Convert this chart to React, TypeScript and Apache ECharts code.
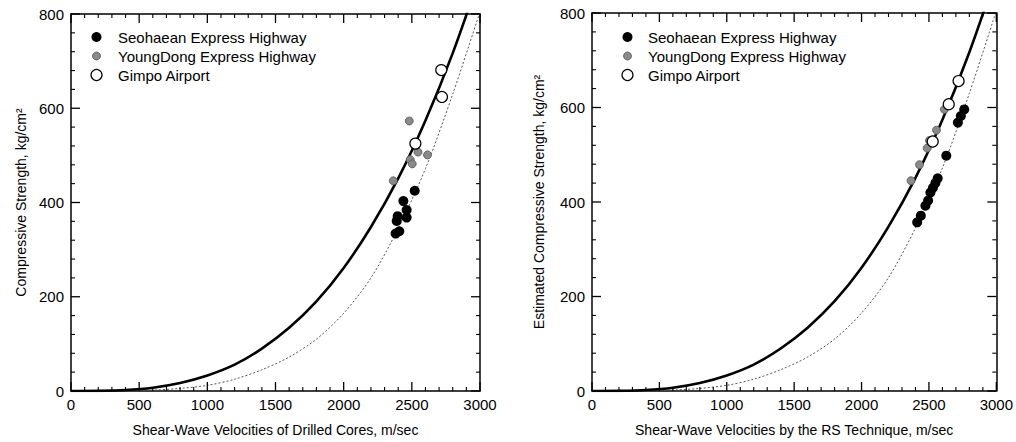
import React, { useEffect, useRef } from "react";
import * as echarts from "echarts";

// Fitted curves (velocity m/sec -> strength kg/cm2)
const velocityGrid = [0, 200, 400, 600, 800, 1000, 1200, 1400, 1600, 1800, 2000, 2200, 2400, 2600, 2800, 3000];
const solidCurve = [0, 0.3, 2, 7, 17, 33, 56, 90, 134, 190, 261, 348, 451, 574, 717, 882];
const dottedCurve = [0, 0, 0.5, 2, 5.5, 12, 25, 45, 72, 110, 165, 240, 345, 472, 630, 805];

// Left panel: drilled cores
const seohaeanLeft = [[2381, 334], [2408, 339], [2389, 361], [2396, 371], [2462, 368], [2462, 384], [2438, 403], [2521, 425]];
const youngdongLeft = [[2364, 446], [2481, 573], [2488, 491], [2503, 482], [2545, 507], [2615, 501]];
const gimpoLeft = [[2526, 525], [2716, 681], [2721, 624]];

// Right panel: RS technique
const seohaeanRight = [[2413, 357], [2440, 371], [2474, 392], [2494, 403], [2511, 420], [2530, 430], [2548, 440], [2565, 450], [2629, 498], [2715, 568], [2737, 582], [2762, 596]];
const youngdongRight = [[2367, 445], [2430, 479], [2487, 514], [2504, 530], [2556, 552], [2615, 596]];
const gimpoRight = [[2528, 528], [2647, 607], [2720, 656]];

// Tick positions (major + minor) of the framed axes
const xTickValues = [0, 100, 200, 300, 400, 500, 600, 700, 800, 900, 1000, 1100, 1200, 1300, 1400, 1500, 1600, 1700, 1800, 1900, 2000, 2100, 2200, 2300, 2400, 2500, 2600, 2700, 2800, 2900, 3000];
const yTickValues = [0, 40, 80, 120, 160, 200, 240, 280, 320, 360, 400, 440, 480, 520, 560, 600, 640, 680, 720, 760, 800];

const seriesNames = ["Seohaean Express Highway", "YoungDong Express Highway", "Gimpo Airport"];
const xTitles = ["Shear-Wave Velocities of Drilled Cores, m/sec", "Shear-Wave Velocities by the RS Technique, m/sec"];
const yTitles = ["Compressive Strength, kg/cm\u00B2", "Estimated Compressive Strength, kg/cm\u00B2"];

const FONT = "'Liberation Sans', Arial, sans-serif";

const markerStyles = [
  { r: 5, fill: "#000", stroke: "#000", lineWidth: 0 },
  { r: 4, fill: "#8a8a8a", stroke: "#555", lineWidth: 0.8 },
  { r: 5.5, fill: "#fff", stroke: "#000", lineWidth: 1.2 },
];

function axisCfg(grid: number, pos: string, isX: boolean, name: string | null, gap: number, showLabel: boolean): any {
  const cfg: any = {
    type: "value",
    gridIndex: grid,
    position: pos,
    min: 0,
    max: isX ? 3000 : 800,
    interval: isX ? 500 : 200,
    axisLine: { show: true, onZero: false, lineStyle: { color: "#000", width: 1.5 } },
    axisTick: { show: false },
    minorTick: { show: false },
    splitLine: { show: false },
    minorSplitLine: { show: false },
    axisLabel: {
      show: showLabel,
      color: "#000",
      fontSize: 15,
      fontFamily: FONT,
      margin: isX ? 6 : 7,
      formatter: (v: number) => String(v),
    },
  };
  if (name) {
    cfg.name = name;
    cfg.nameLocation = "middle";
    cfg.nameGap = gap;
    cfg.nameTextStyle = { color: "#000", fontSize: 14, fontFamily: FONT };
  }
  return cfg;
}

function tickSeries(xi: number, yi: number) {
  const tickStyle = (major: boolean) => ({ stroke: "#000", lineWidth: major ? 1.3 : 1.1 });
  return [
    {
      type: "custom",
      xAxisIndex: xi,
      yAxisIndex: yi,
      silent: true,
      clip: false,
      z: 10,
      data: xTickValues.map((v) => [v, 0]),
      renderItem: (_p: any, api: any) => {
        const v = api.value(0);
        const major = v % 500 === 0;
        const len = major ? 9 : 4;
        const b = api.coord([v, 0]);
        const t = api.coord([v, 800]);
        return {
          type: "group",
          children: [
            { type: "line", shape: { x1: b[0], y1: b[1], x2: b[0], y2: b[1] - len }, style: tickStyle(major) },
            { type: "line", shape: { x1: t[0], y1: t[1], x2: t[0], y2: t[1] + len }, style: tickStyle(major) },
          ],
        };
      },
    },
    {
      type: "custom",
      xAxisIndex: xi,
      yAxisIndex: yi,
      silent: true,
      clip: false,
      z: 10,
      data: yTickValues.map((v) => [0, v]),
      renderItem: (_p: any, api: any) => {
        const v = api.value(1);
        const major = v % 200 === 0;
        const len = major ? 9 : 4;
        const l = api.coord([0, v]);
        const r = api.coord([3000, v]);
        return {
          type: "group",
          children: [
            { type: "line", shape: { x1: l[0], y1: l[1], x2: l[0] + len, y2: l[1] }, style: tickStyle(major) },
            { type: "line", shape: { x1: r[0], y1: r[1], x2: r[0] - len, y2: r[1] }, style: tickStyle(major) },
          ],
        };
      },
    },
  ];
}

function panelSeries(xi: number, yi: number, s: number[][], y: number[][], g: number[][]) {
  const curve = (vals: number[]) => velocityGrid.map((v, i) => [v, vals[i]]);
  const pts = [s, y, g];
  return [
    {
      type: "line",
      xAxisIndex: xi,
      yAxisIndex: yi,
      data: curve(dottedCurve),
      smooth: 0.3,
      symbol: "none",
      lineStyle: { color: "#555", width: 1, type: [2, 2] },
      z: 2,
    },
    {
      type: "line",
      xAxisIndex: xi,
      yAxisIndex: yi,
      data: curve(solidCurve),
      smooth: 0.3,
      symbol: "none",
      lineStyle: { color: "#000", width: 2.6 },
      z: 3,
    },
    ...pts.map((data, k) => ({
      name: seriesNames[k],
      type: "scatter",
      xAxisIndex: xi,
      yAxisIndex: yi,
      data,
      symbol: "circle",
      symbolSize: markerStyles[k].r * 2,
      itemStyle: {
        color: markerStyles[k].fill,
        borderColor: markerStyles[k].stroke,
        borderWidth: markerStyles[k].lineWidth,
        opacity: 1,
      },
      z: 5 + k,
    })),
    ...tickSeries(xi, yi),
  ];
}

function legendGraphics(symX: number, textX: number, top: number, pitch: number) {
  const els: any[] = [];
  seriesNames.forEach((name, k) => {
    const cy = top + k * pitch;
    const m = markerStyles[k];
    els.push({
      type: "circle",
      shape: { cx: symX, cy, r: m.r },
      style: { fill: m.fill, stroke: m.stroke, lineWidth: m.lineWidth },
      silent: true,
    });
    els.push({
      type: "text",
      x: textX,
      y: cy,
      style: { text: name, fill: "#000", fontSize: 15, fontFamily: FONT, verticalAlign: "middle", align: "left" },
      silent: true,
    });
  });
  return els;
}

export default function App() {
  const ref = useRef<HTMLDivElement>(null);
  useEffect(() => {
    if (!ref.current) return;
    const chart = echarts.init(ref.current, null, { renderer: "svg" });
    const option = {
      animation: false,
      grid: [
        { left: 71, top: 14, width: 409, height: 379 },
        { left: 592, top: 13, width: 407, height: 380 },
      ],
      graphic: [...legendGraphics(96.5, 118, 37, 19), ...legendGraphics(627.5, 648, 37, 19)],
      xAxis: [
        axisCfg(0, "bottom", true, xTitles[0], 32, true),
        axisCfg(0, "top", true, null, 10, false),
        axisCfg(1, "bottom", true, xTitles[1], 32, true),
        axisCfg(1, "top", true, null, 10, false),
      ],
      yAxis: [
        axisCfg(0, "left", false, yTitles[0], 43, true),
        axisCfg(0, "right", false, null, 10, false),
        axisCfg(1, "left", false, yTitles[1], 46, true),
        axisCfg(1, "right", false, null, 10, false),
      ],
      series: [
        ...panelSeries(0, 0, seohaeanLeft, youngdongLeft, gimpoLeft),
        ...panelSeries(2, 2, seohaeanRight, youngdongRight, gimpoRight),
      ],
    };
    chart.setOption(option as any);
    return () => chart.dispose();
  }, []);
  return (
    <div
      ref={ref}
      style={{ position: "fixed", left: 0, top: 0, width: 1016, height: 442, background: "#fff" }}
    />
  );
}
